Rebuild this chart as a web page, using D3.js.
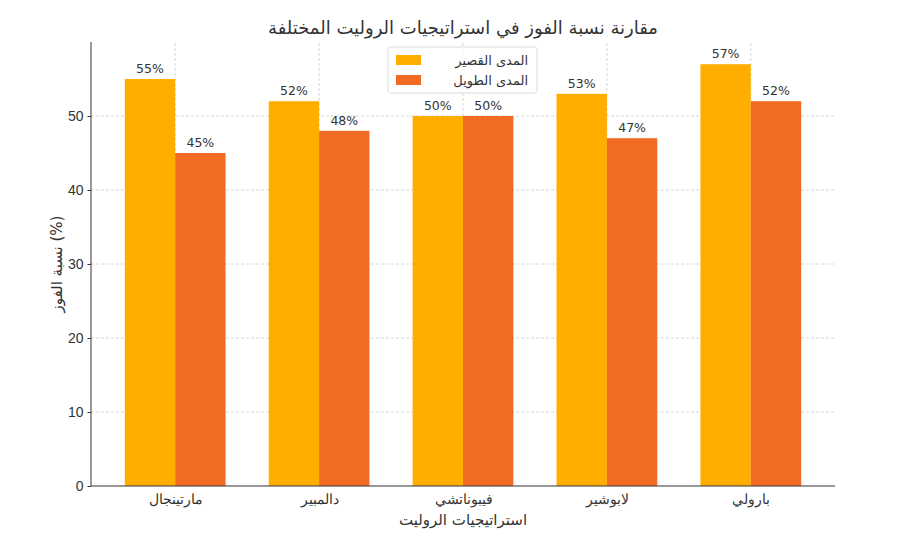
<!DOCTYPE html>
<html lang="ar">
<head>
<meta charset="UTF-8">
<title>مقارنة نسبة الفوز</title>
<script src="https://cdn.jsdelivr.net/npm/d3@7"></script>
<style>
    body { margin: 0; background: #fff; font-family: "DejaVu Sans", sans-serif; }
    .grid line { stroke: #ccc; stroke-dasharray: 3,2; stroke-width: 0.8; }
    .axis text { font-size: 14px; fill: #333; }
    .axis path, .axis line { stroke: #333; }
    .val { font-size: 12.5px; fill: #333; }
</style>
</head>
<body>
<svg width="900" height="543"></svg>
<script>
    const strategies = ["مارتينجال", "دالمبير", "فيبوناتشي", "لابوشير", "بارولي"];
    const shortTerm = [55, 52, 50, 53, 57];
    const longTerm = [45, 48, 50, 47, 52];
    const seriesNames = ["المدى القصير", "المدى الطويل"];
    const yTicks = [0, 10, 20, 30, 40, 50];

    const colors = ["#FFAE00", "#F26B22"];
    const svg = d3.select("svg");
    const margin = { left: 91, right: 65, top: 42, bottom: 57 };
    const W = 900, H = 543;

    // matplotlib-like continuous x: groups at 0..4, bars of width 0.35
    const barW = 0.35;
    const x = d3.scaleLinear().domain([-0.585, 4.585]).range([margin.left, W - margin.right]);
    const y = d3.scaleLinear().domain([0, 60]).range([H - margin.bottom, margin.top]);

    // grid
    const grid = svg.append("g").attr("class", "grid");
    grid.selectAll(".gy").data(yTicks.slice(1)).enter().append("line")
        .attr("x1", x.range()[0]).attr("x2", x.range()[1])
        .attr("y1", d => y(d)).attr("y2", d => y(d));
    grid.selectAll(".gx").data(strategies).enter().append("line")
        .attr("x1", (d, i) => x(i)).attr("x2", (d, i) => x(i))
        .attr("y1", y.range()[0]).attr("y2", y.range()[1]);

    // bars
    const series = [shortTerm, longTerm];
    series.forEach((vals, s) => {
        const off = s === 0 ? -barW : 0;
        svg.append("g").selectAll("rect").data(vals).enter().append("rect")
            .attr("x", (d, i) => x(i + off))
            .attr("width", x(barW) - x(0))
            .attr("y", d => y(d))
            .attr("height", d => y(0) - y(d))
            .attr("fill", colors[s]);
        svg.append("g").selectAll("text").data(vals).enter().append("text")
            .attr("class", "val")
            .attr("x", (d, i) => x(i + off + barW / 2))
            .attr("y", d => y(d) - 6)
            .attr("text-anchor", "middle")
            .text(d => d + "%");
    });

    // axes
    const xAxis = svg.append("g").attr("class", "axis")
        .attr("transform", `translate(0,${y(0)})`)
        .call(d3.axisBottom(x).tickValues(d3.range(strategies.length))
            .tickFormat(i => strategies[i]).tickSize(0).tickPadding(8));
    xAxis.select(".domain").attr("d", `M${x.range()[0]},0H${x.range()[1]}`);
    const yAxis = svg.append("g").attr("class", "axis")
        .attr("transform", `translate(${x.range()[0]},0)`)
        .call(d3.axisLeft(y).tickValues(yTicks).tickSize(3.5).tickPadding(4));
    yAxis.select(".domain").attr("d", `M0,${y.range()[0]}V${y.range()[1]}`);

    // title and axis labels
    svg.append("text").attr("x", (x.range()[0] + x.range()[1]) / 2).attr("y", 34)
        .attr("text-anchor", "middle").style("font-size", "18px").attr("fill", "#333")
        .text("مقارنة نسبة الفوز في استراتيجيات الروليت المختلفة");
    svg.append("text").attr("x", (x.range()[0] + x.range()[1]) / 2).attr("y", 525)
        .attr("text-anchor", "middle").style("font-size", "15px").attr("fill", "#333")
        .text("استراتيجيات الروليت");
    svg.append("text")
        .attr("transform", `translate(62,${(y.range()[0] + y.range()[1]) / 2}) rotate(-90)`)
        .attr("text-anchor", "middle").style("font-size", "15px").attr("fill", "#333")
        .text("نسبة الفوز (%)");

    // legend
    const lg = svg.append("g").attr("transform", "translate(388,47)");
    lg.append("rect").attr("width", 149).attr("height", 46).attr("rx", 3)
        .attr("fill", "#fff").attr("fill-opacity", 0.8).attr("stroke", "#ddd");
    seriesNames.forEach((n, i) => {
        lg.append("rect").attr("x", 8).attr("y", 8 + i * 20).attr("width", 25).attr("height", 10)
            .attr("fill", colors[i]);
        lg.append("text").attr("x", 140).attr("y", 18 + i * 20).attr("text-anchor", "end")
            .style("font-size", "13px").attr("fill", "#333").text(n);
    });
</script>
</body>
</html>
